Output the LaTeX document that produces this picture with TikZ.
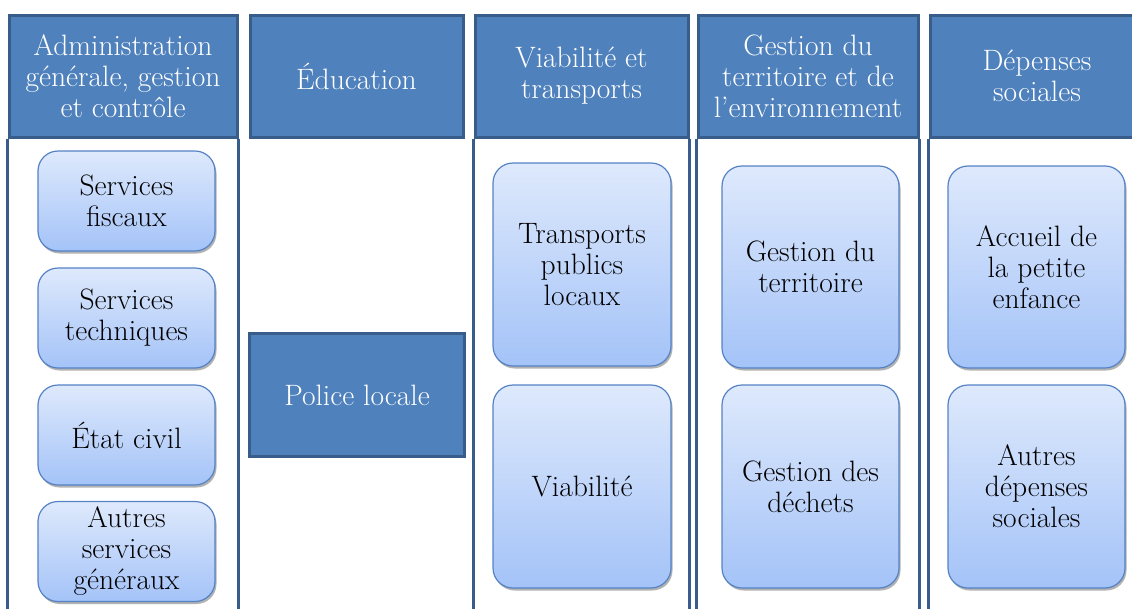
\documentclass[tikz,border=0pt]{standalone}
\usetikzlibrary{shadows,positioning}
\definecolor{hdrblue}{RGB}{79,129,189}
\definecolor{hdrline}{RGB}{56,93,138}
\definecolor{boxtop}{RGB}{222,233,252}
\definecolor{boxbot}{RGB}{164,195,248}
\definecolor{boxline}{RGB}{84,130,196}

\begin{document}
\begin{tikzpicture}[x=1pt,y=-1pt,
	hdr/.style={draw=hdrline,line width=3pt,fill=hdrblue,text=white,align=center,
		font=\fontsize{29.5}{31}\selectfont,inner sep=0pt,minimum height=122pt},
	item/.style={draw=boxline,line width=1.2pt,rounded corners=20pt,top color=boxtop,bottom color=boxbot,
		align=center,font=\fontsize{29.5}{31}\selectfont,inner sep=0pt,
		drop shadow={shadow xshift=1.5pt,shadow yshift=-2.5pt,opacity=0.3,fill=black}},
	colline/.style={draw=hdrline,line width=3pt}]
	\useasboundingbox (0,0) rectangle (1132,608);
	% headers
	\node[hdr,minimum width=228pt] (adm) at (123,76) {Administration\\générale, gestion\\et contrôle};
	\node[hdr,minimum width=213pt] (edu) at (356.5,76) {Éducation};
	\node[hdr,minimum width=213pt] (via) at (581.5,76) {Viabilité et\\transports};
	\node[hdr,minimum width=220pt] (ter) at (808,76) {Gestion du\\territoire et de\\l’environnement};
	\node[hdr,minimum width=214pt] (soc) at (1037,76) {Dépenses\\sociales};
	\node[hdr,minimum width=215pt,minimum height=123pt] (pol) at (357,395) {Police locale};
	% column frames
	\draw[colline] (adm.south west) -- (adm.south west |- 0,615);
	\draw[colline] (adm.south east) -- (adm.south east |- 0,615);
	\draw[colline] (via.south west) -- (via.south west |- 0,615);
	\draw[colline] (via.south east) -- (via.south east |- 0,615);
	\draw[colline] (ter.south west) -- (ter.south west |- 0,615);
	\draw[colline] (ter.south east) -- (ter.south east |- 0,615);
	\draw[colline] (soc.south west) -- (soc.south west |- 0,615);
	% items
	\node[item,minimum width=177pt,minimum height=100pt] (fisc) at (126.5,201) {Services\\fiscaux};
	\node[item,minimum width=177pt,minimum height=100pt] (tech) at (126.5,318) {Services\\techniques};
	\node[item,minimum width=177pt,minimum height=100pt] (etat) at (126.5,435) {État civil};
	\node[item,minimum width=177pt,minimum height=100pt] (autgen) at (126.5,551.5) {Autres\\services\\généraux};
	\node[item,minimum width=178pt,minimum height=203pt] (trans) at (582,264.5) {Transports\\publics\\locaux};
	\node[item,minimum width=178pt,minimum height=203pt] (viab) at (582,486.5) {Viabilité};
	\node[item,minimum width=177pt,minimum height=202pt] (gter) at (810.5,267) {Gestion du\\territoire};
	\node[item,minimum width=177pt,minimum height=203pt] (dech) at (810.5,486.5) {Gestion des\\déchets};
	\node[item,minimum width=177pt,minimum height=202pt] (enf) at (1036.5,267) {Accueil de\\la petite\\enfance};
	\node[item,minimum width=177pt,minimum height=203pt] (autsoc) at (1036.5,486.5) {Autres\\dépenses\\sociales};
\end{tikzpicture}
\end{document}
